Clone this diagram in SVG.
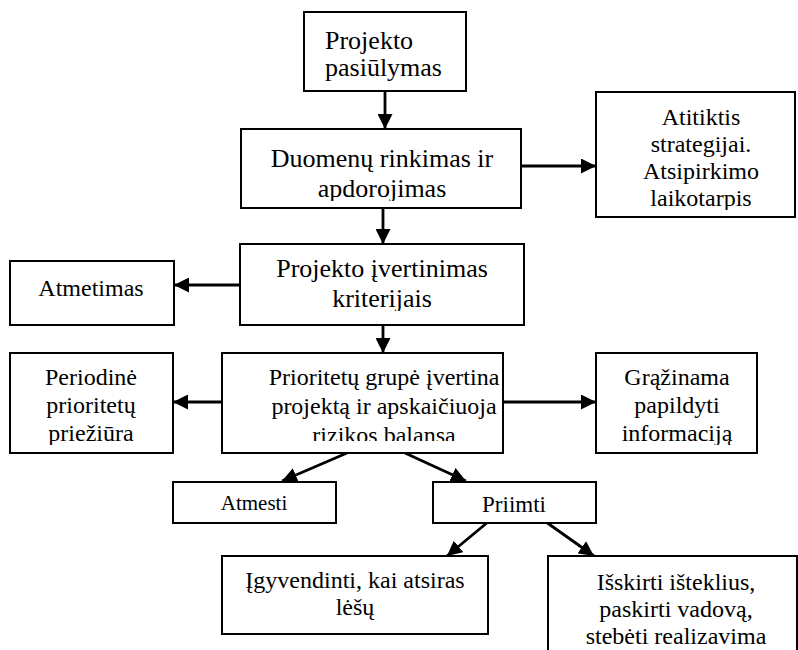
<svg xmlns="http://www.w3.org/2000/svg" width="798" height="650" viewBox="0 0 798 650">
<style>
.box{fill:#fff;stroke:#000;stroke-width:2}
text{font-family:'Liberation Serif','DejaVu Serif','Times New Roman',serif;fill:#000;text-anchor:middle}
.conn line{stroke:#000;stroke-width:2.8;marker-end:url(#ah)}
</style>
<defs>
<marker id="ah" markerUnits="userSpaceOnUse" markerWidth="15" markerHeight="15" viewBox="0 0 15 15" refX="15" refY="7.5" orient="auto">
<path d="M0,0 L15,7.5 L0,15 z" fill="#000"/>
</marker>
<clipPath id="c2"><rect x="241" y="129" width="280" height="72"/></clipPath>
<clipPath id="cA"><rect x="596" y="92" width="199" height="118"/></clipPath>
<clipPath id="c3"><rect x="240" y="244" width="284" height="67"/></clipPath>
<clipPath id="c4"><rect x="222" y="353" width="281" height="88"/></clipPath>
<clipPath id="cP"><rect x="10" y="353" width="163" height="92"/></clipPath>
<clipPath id="cG"><rect x="596" y="353" width="161" height="92"/></clipPath>
</defs>
<rect width="798" height="650" fill="#fff"/>
<g class="conn" id="connectors">
<line x1="385" y1="91" x2="385" y2="129"/>
<line x1="521" y1="166" x2="596" y2="166"/>
<line x1="383" y1="208" x2="383" y2="244"/>
<line x1="240" y1="285" x2="174" y2="285"/>
<line x1="383" y1="325" x2="383" y2="353"/>
<line x1="222" y1="402" x2="173" y2="402"/>
<line x1="503" y1="402" x2="596" y2="402"/>
<line x1="347" y1="453" x2="282" y2="481"/>
<line x1="405" y1="453" x2="466" y2="481"/>
<line x1="488" y1="522" x2="447" y2="556"/>
<line x1="546" y1="522" x2="594" y2="556"/>
</g>
<g id="n1"><rect class="box" x="304" y="12" width="162" height="79"/>
<text style="text-anchor:start" font-size="26" x="325" y="49">Projekto</text>
<text style="text-anchor:start" font-size="26" x="325" y="76">pasiūlymas</text></g>
<g id="n2"><rect class="box" x="241" y="129" width="280" height="79"/>
<g clip-path="url(#c2)"><text font-size="26" x="382" y="167">Duomenų rinkimas ir</text>
<text font-size="26" x="382" y="197">apdorojimas</text></g></g>
<g id="nA"><rect class="box" x="596" y="92" width="199" height="125"/>
<g clip-path="url(#cA)"><text font-size="24" x="701" y="125">Atitiktis</text>
<text font-size="24" x="701" y="152">strategijai.</text>
<text font-size="24" x="701" y="179">Atsipirkimo</text>
<text font-size="24" x="701" y="206">laikotarpis</text></g></g>
<g id="n3"><rect class="box" x="240" y="244" width="284" height="81"/>
<g clip-path="url(#c3)"><text font-size="26" x="382" y="277">Projekto įvertinimas</text>
<text font-size="26" x="382" y="307">kriterijais</text></g></g>
<g id="nAtmetimas"><rect class="box" x="10" y="261" width="164" height="64"/>
<text font-size="24" x="91" y="296">Atmetimas</text></g>
<g id="n4"><rect class="box" x="222" y="353" width="281" height="100"/>
<g clip-path="url(#c4)"><text font-size="24" x="384" y="385">Prioritetų grupė įvertina</text>
<text font-size="24" x="384" y="414">projektą ir apskaičiuoja</text>
<text font-size="24" x="384" y="443">rizikos balansa</text></g></g>
<g id="nP"><rect class="box" x="10" y="353" width="163" height="100"/>
<g clip-path="url(#cP)"><text font-size="24" x="91" y="385">Periodinė</text>
<text font-size="24" x="91" y="413">prioritetų</text>
<text font-size="24" x="91" y="441">priežiūra</text></g></g>
<g id="nG"><rect class="box" x="596" y="353" width="161" height="100"/>
<g clip-path="url(#cG)"><text font-size="24" x="677" y="385">Grąžinama</text>
<text font-size="24" x="677" y="413">papildyti</text>
<text font-size="24" x="677" y="441">informaciją</text></g></g>
<g id="nAtmesti"><rect class="box" x="173" y="482" width="163" height="41"/>
<text font-size="21" x="254" y="510">Atmesti</text></g>
<g id="nPriimti"><rect class="box" x="433" y="482" width="163" height="41"/>
<text font-size="23" x="514" y="512">Priimti</text></g>
<g id="nI"><rect class="box" x="222" y="556" width="266" height="78"/>
<text font-size="24" x="355" y="588">Įgyvendinti, kai atsiras</text>
<text font-size="24" x="355" y="615">lėšų</text></g>
<g id="nIs"><rect class="box" x="548" y="556" width="249" height="100"/>
<text font-size="24" x="676" y="590">Išskirti išteklius,</text>
<text font-size="24" x="676" y="617">paskirti vadovą,</text>
<text font-size="24" x="676" y="644">stebėti realizavima</text></g>
</svg>
